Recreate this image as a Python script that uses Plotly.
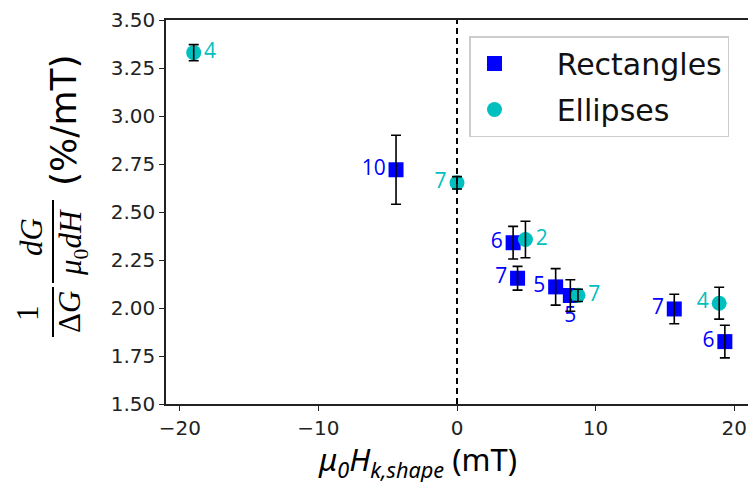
import plotly.graph_objects as go

# ---- data ----
rect_x = [-4.4, 4.05, 4.37, 7.12, 8.18, 15.68, 19.33]
rect_y = [2.72, 2.34, 2.155, 2.11, 2.065, 1.995, 1.825]
rect_err = [0.18, 0.085, 0.062, 0.095, 0.082, 0.077, 0.085]
rect_labels = ["10", "6", "7", "5", "5", "7", "6"]

ell_x = [-19.0, 0.0, 4.94, 8.73, 18.92]
ell_y = [3.33, 2.652, 2.357, 2.066, 2.025]
ell_err = [0.042, 0.032, 0.095, 0.032, 0.083]
ell_labels = ["4", "7", "2", "7", "4"]

x_ticks = [-20, -10, 0, 10, 20]
y_ticks = [1.50, 1.75, 2.00, 2.25, 2.50, 2.75, 3.00, 3.25, 3.50]

# ---- styling ----
rect_pos = ["middle left", "middle left", "middle left", "middle left",
            "bottom center", "middle left", "middle left"]
ell_pos = ["middle right", "middle left", "middle right", "middle right", "middle left"]
BLUE = "#0000ff"
CYAN = "#00bfbf"
W, H = 748, 482
L, R, T, B = 166, 0, 20, 78
PW, PH = W - L - R, H - T - B
PAD = "\u00a0" * 4


def px(p):
    return (p - L) / PW


def py(q):
    return (H - B - q) / PH


fig = go.Figure()
fig.add_trace(go.Scatter(
    x=rect_x, y=rect_y, mode="markers+text", name=PAD + "Rectangles",
    marker=dict(symbol="square", size=15, color=BLUE),
    text=rect_labels, textposition=rect_pos,
    textfont=dict(color=BLUE, size=21, family="Open Sans"),
    legendgroup="r", cliponaxis=False,
))
fig.add_trace(go.Scatter(
    x=ell_x, y=ell_y, mode="markers+text", name=PAD + "Ellipses",
    marker=dict(symbol="circle", size=15, color=CYAN),
    text=ell_labels, textposition=ell_pos,
    textfont=dict(color=CYAN, size=21, family="Open Sans"),
    legendgroup="e", cliponaxis=False,
))
# error bars drawn on top of the markers
for xs, ys, es in [(rect_x, rect_y, rect_err), (ell_x, ell_y, ell_err)]:
    fig.add_trace(go.Scatter(
        x=xs, y=ys, mode="markers", showlegend=False, hoverinfo="skip",
        marker=dict(size=1, opacity=0),
        error_y=dict(type="data", array=es, color="black", thickness=1.6, width=5),
    ))

fig.add_shape(type="line", x0=0, x1=0, xref="x", y0=0, y1=1, yref="paper",
              line=dict(color="black", width=2, dash="6px,4px"))

# y-axis label as a rotated fraction
serif = "Liberation Serif"
ann = [
    ("1", 27, 313, serif, 31),
    ("Δ<i>G</i>", 69, 312, serif, 31),
    ("<i>dG</i>", 31, 237, serif, 31),
    ("<i>μ</i><sub>0</sub><i>dH</i>", 73, 243, serif, 31),
    ("(%/mT)", 63, 121, "DejaVu Sans", 36),
]
for txt, xp, yp, fam, sz in ann:
    fig.add_annotation(text=txt, x=px(xp), y=py(yp), xref="paper", yref="paper",
                       textangle=-90, showarrow=False, xanchor="center", yanchor="middle",
                       font=dict(family=fam, size=sz, color="black"))
for y0, y1 in [(287, 337), (200, 283)]:
    fig.add_shape(type="line", xref="paper", yref="paper", x0=px(53), x1=px(53),
                  y0=py(y0), y1=py(y1), line=dict(color="black", width=2))

# x-axis label
fig.add_annotation(text="<i>μ<sub>0</sub>H<sub>k,shape</sub></i> (mT)",
                   x=px(417), y=py(461), xref="paper", yref="paper", showarrow=False,
                   xanchor="center", yanchor="middle",
                   font=dict(family="Noto Sans", size=31, color="black"))

axis_common = dict(showgrid=False, zeroline=False, ticks="outside", ticklen=5,
                   tickwidth=1.2, tickcolor="#222", showline=True, linecolor="#222",
                   linewidth=1.5, tickfont=dict(family="DejaVu Sans", size=20, color="#222"))
fig.update_xaxes(range=[-21, 21], tickvals=x_ticks,
                 ticktext=[str(v).replace("-", "−") for v in x_ticks],
                 mirror=True, **axis_common)
fig.update_yaxes(range=[1.5, 3.5], tickvals=y_ticks,
                 ticktext=[f"{v:.2f}" for v in y_ticks], **axis_common)

fig.update_layout(
    width=W, height=H, margin=dict(l=L, r=R, t=T, b=B),
    plot_bgcolor="white", paper_bgcolor="white",
    legend=dict(x=px(469), y=py(36), xanchor="left", yanchor="top",
                font=dict(family="DejaVu Sans", size=30, color="#111"),
                bordercolor="#cccccc", borderwidth=1.5, bgcolor="white",
                itemwidth=38, traceorder="grouped", tracegroupgap=4),
    showlegend=True,
)
fig.write_html("out.html", config={"displayModeBar": False},
               post_script="document.body.style.margin='0';document.body.style.padding='0';")
